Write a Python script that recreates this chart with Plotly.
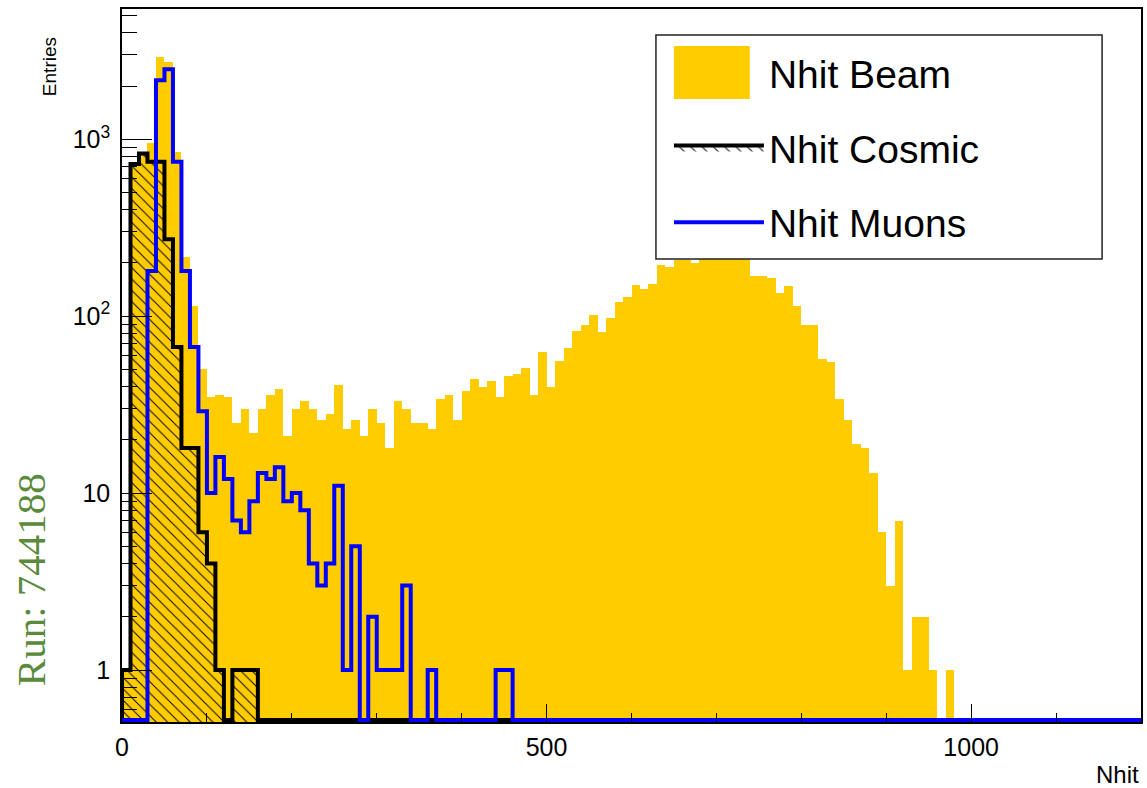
import plotly.graph_objects as go

# ---------------- data ----------------
BIN_WIDTH = 10          # Nhit per bin, 120 bins from 0 to 1200
X_RANGE = [0, 1200]
Y_LOG_RANGE = [-0.294, 3.737]

beam_counts = [
    1, 725, 833, 957, 2908, 2747, 851, 215, 114, 50,
    35, 36, 35, 25, 30, 22, 30, 36, 39, 21,
    30, 33, 30, 26, 28, 41, 23, 26, 21, 30,
    25, 18, 33, 30, 25, 25, 23, 34, 36, 26,
    38, 44, 40, 43, 35, 46, 47, 51, 36, 63,
    40, 56, 66, 83, 89, 101, 81, 98, 120, 129,
    150, 142, 153, 195, 191, 207, 207, 200, 228, 242,
    248, 238, 232, 222, 169, 169, 164, 136, 148, 114,
    89, 89, 57, 55, 34, 26, 19, 18, 13, 6,
    3, 7, 1, 2, 2, 1, 0, 1, 0, 0,
    0, 0, 0, 0, 0, 0, 0, 0, 0, 0,
    0, 0, 0, 0, 0, 0, 0, 0, 0, 0,
]

cosmic_counts = [
    1, 725, 833, 747, 747, 272, 67, 18, 18, 6,
    4, 1, 0, 1, 1, 1, 0, 0, 0, 0,
    0, 0, 0, 0, 0, 0, 0, 0, 0, 0,
    0, 0, 0, 0, 0, 0, 0, 0, 0, 0,
    0, 0, 0, 0, 0, 0, 0, 0, 0, 0,
    0, 0, 0, 0, 0, 0, 0, 0, 0, 0,
    0, 0, 0, 0, 0, 0, 0, 0, 0, 0,
    0, 0, 0, 0, 0, 0, 0, 0, 0, 0,
    0, 0, 0, 0, 0, 0, 0, 0, 0, 0,
    0, 0, 0, 0, 0, 0, 0, 0, 0, 0,
    0, 0, 0, 0, 0, 0, 0, 0, 0, 0,
    0, 0, 0, 0, 0, 0, 0, 0, 0, 0,
]

muon_counts = [
    0, 0, 0, 180, 2157, 2488, 747, 180, 67, 29,
    10, 16, 12, 7, 6, 9, 13, 12, 14, 9,
    10, 8, 4, 3, 4, 11, 1, 5, 0, 2,
    1, 1, 1, 3, 0, 0, 1, 0, 0, 0,
    0, 0, 0, 0, 1, 1, 0, 0, 0, 0,
    0, 0, 0, 0, 0, 0, 0, 0, 0, 0,
    0, 0, 0, 0, 0, 0, 0, 0, 0, 0,
    0, 0, 0, 0, 0, 0, 0, 0, 0, 0,
    0, 0, 0, 0, 0, 0, 0, 0, 0, 0,
    0, 0, 0, 0, 0, 0, 0, 0, 0, 0,
    0, 0, 0, 0, 0, 0, 0, 0, 0, 0,
    0, 0, 0, 0, 0, 0, 0, 0, 0, 0,
]

series_names = ["Nhit Beam", "Nhit Cosmic", "Nhit Muons"]

x_major_ticks = [0, 500, 1000]
x_minor_ticks = [100, 200, 300, 400, 600, 700, 800, 900, 1100]
y_major_ticks = [1, 10, 100, 1000]
y_major_labels = ["1", "10", "10<sup>2</sup>", "10<sup>3</sup>"]
y_minor_ticks = [0.6, 0.7, 0.8, 0.9,
                 2, 3, 4, 5, 6, 7, 8, 9,
                 20, 30, 40, 50, 60, 70, 80, 90,
                 200, 300, 400, 500, 600, 700, 800, 900,
                 2000, 3000, 4000, 5000]

run_label = "Run: 744188"
x_title = "Nhit"
y_title = "Entries"

BEAM_COLOR = "#FFCC00"
COSMIC_COLOR = "black"
MUON_COLOR = "#0000FF"

# ---------------- helpers ----------------
n_bins = len(beam_counts)
edges = [BIN_WIDTH * i for i in range(n_bins + 1)]
centers = [e + BIN_WIDTH / 2 for e in edges[:-1]]
# empty bins are drawn (as ROOT does) along the bottom of the frame
floor_value = 10 ** (Y_LOG_RANGE[0] + 0.012)


def step_outline(counts):
    vals = [c if c > 0 else floor_value for c in counts]
    xs = [edges[0]] + edges[:-1] + [edges[-1]]
    ys = [floor_value] + vals + [vals[-1]]
    return xs, ys


# plot frame in pixels (for placing the legend frame / titles)
W, H = 1147, 788
ML, MR, MT, MB = 122, 4, 9, 66
PW, PH = W - ML - MR, H - MT - MB


def px_x(x):
    return (x - ML) / PW


def px_y(y):
    return (H - MB - y) / PH


FONT = "Liberation Sans, Arial, Helvetica, sans-serif"

fig = go.Figure()

fig.add_trace(go.Bar(
    x=centers, y=beam_counts, width=BIN_WIDTH,
    marker=dict(color=BEAM_COLOR, line=dict(width=0)),
    name=series_names[0], legendgroup="a",
))

cx, cy = step_outline(cosmic_counts)
fig.add_trace(go.Scatter(
    x=cx, y=cy, mode="lines", line=dict(color=COSMIC_COLOR, width=4, shape="hv"),
    fill="tozeroy", fillcolor="rgba(0,0,0,0)",
    fillpattern=dict(shape="\\", fgcolor="black", bgcolor="rgba(0,0,0,0)",
                     size=8, solidity=0.12, fgopacity=1),
    name=series_names[1], legendgroup="b",
))

mx, my = step_outline(muon_counts)
fig.add_trace(go.Scatter(
    x=mx, y=my, mode="lines", line=dict(color=MUON_COLOR, width=4, shape="hv"),
    name=series_names[2], legendgroup="c",
))

shapes = [
    # legend frame (ROOT TLegend box, white, drawn over the histograms)
    dict(type="rect", xref="paper", yref="paper", layer="above",
         x0=px_x(657), x1=px_x(1104), y0=px_y(259), y1=px_y(35),
         fillcolor="white", line=dict(color="#222222", width=1.5)),
    # large fill swatch of the Beam legend entry
    dict(type="rect", xref="paper", yref="paper", layer="above",
         x0=px_x(675), x1=px_x(751), y0=px_y(99), y1=px_y(46),
         fillcolor=BEAM_COLOR, line=dict(width=0)),
]

fig.update_layout(
    width=W, height=H,
    margin=dict(l=ML, r=MR, t=MT, b=MB),
    paper_bgcolor="white", plot_bgcolor="white",
    barmode="overlay", bargap=0,
    font=dict(family=FONT, color="black"),
    showlegend=True,
    legend=dict(
        x=px_x(670), y=px_y(41),
        xanchor="left", yanchor="top",
        bgcolor="rgba(0,0,0,0)", borderwidth=0,
        font=dict(size=39, family=FONT, color="black"),
        itemwidth=90, tracegroupgap=21, traceorder="grouped",
    ),
    shapes=shapes,
    xaxis=dict(
        range=X_RANGE, showgrid=False, zeroline=False,
        showline=True, linecolor="black", linewidth=1.5, mirror=True,
        ticks="inside", ticklen=18, tickwidth=1.3, tickcolor="black",
        tickvals=x_major_ticks, ticktext=[str(v) for v in x_major_ticks],
        tickfont=dict(size=25, family=FONT), ticklabelstandoff=2,
        minor=dict(ticks="inside", ticklen=9, tickwidth=1.3,
                   tickcolor="black", tickvals=x_minor_ticks, showgrid=False),
    ),
    yaxis=dict(
        type="log", range=Y_LOG_RANGE, showgrid=False, zeroline=False,
        showline=True, linecolor="black", linewidth=1.5, mirror=True,
        ticks="inside", ticklen=30, tickwidth=1.3, tickcolor="black",
        tickvals=y_major_ticks, ticktext=y_major_labels,
        tickfont=dict(size=25, family=FONT), ticklabelstandoff=5,
        minor=dict(ticks="inside", ticklen=15, tickwidth=1.3,
                   tickcolor="black", tickvals=y_minor_ticks, showgrid=False),
    ),
    annotations=[
        dict(text=y_title, xref="paper", yref="paper",
             x=px_x(49), y=px_y(67), xanchor="center", yanchor="middle",
             textangle=-90, showarrow=False, font=dict(size=19, family=FONT)),
        dict(text=x_title, xref="paper", yref="paper",
             x=1.0, y=px_y(774), xanchor="right", yanchor="middle",
             showarrow=False, font=dict(size=24, family=FONT)),
        dict(text=run_label, xref="paper", yref="paper",
             x=px_x(31), y=px_y(580), xanchor="center", yanchor="middle",
             textangle=-90, showarrow=False,
             font=dict(size=41, family="Liberation Serif, Times New Roman, serif",
                       color="#5A8A3C")),
    ],
)

fig.write_html("out.html")
